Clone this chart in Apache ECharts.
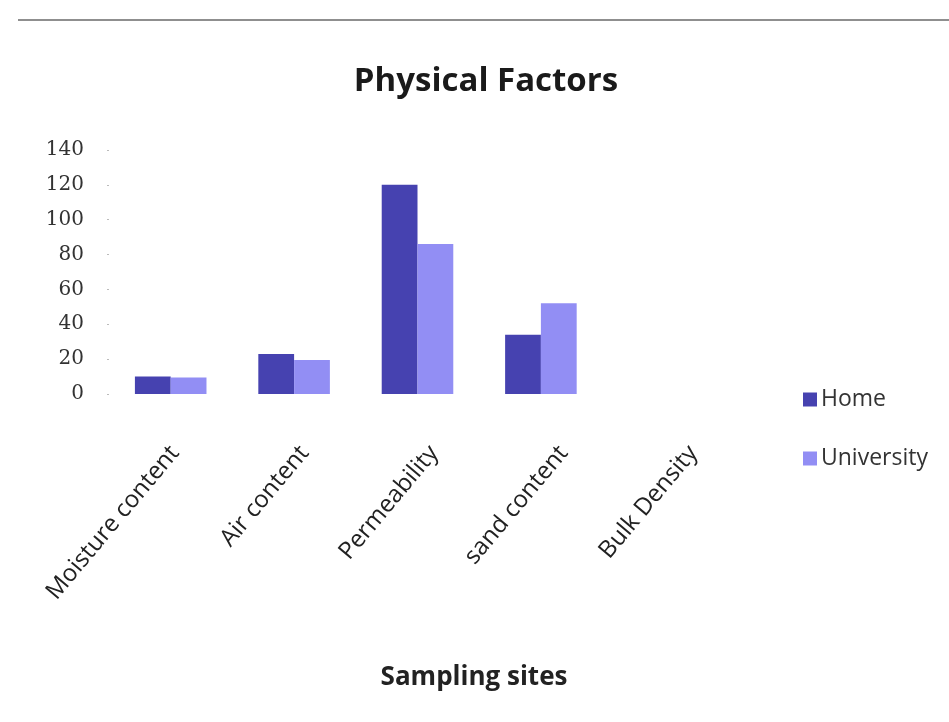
<!DOCTYPE html>
<html>
<head>
<meta charset="utf-8">
<script src="https://cdn.jsdelivr.net/npm/echarts@6/dist/echarts.min.js"></script>
<style>
  html, body { margin: 0; padding: 0; background: #ffffff; }
  #chart { width: 949px; height: 722px; }
</style>
</head>
<body>
<div id="chart"></div>
<script>
// Soil physical properties measured at two sampling sites
const categories = ['Moisture content', 'Air content', 'Permeability', 'sand content', 'Bulk Density'];
const homeValues = [10, 23, 120, 34, 0];
const universityValues = [9.5, 19.5, 86, 52, 0];
const seriesNames = ['Home', 'University'];
const yTicks = { min: 0, max: 140, interval: 20 };

const FONT = '"Open Sans", "Noto Sans", sans-serif';

const chart = echarts.init(document.getElementById('chart'), null, { renderer: 'canvas' });

chart.setOption({
  backgroundColor: '#ffffff',
  animation: false,
  title: [
    {
      text: 'Physical Factors',
      left: 481, top: 60, textAlign: 'center',
      textStyle: { fontFamily: FONT, fontSize: 33, fontWeight: 'bold', color: '#1a1a1a' }
    },
    {
      text: 'Sampling sites',
      left: 469, top: 660, textAlign: 'center',
      textStyle: { fontFamily: FONT, fontSize: 26, fontWeight: 'bold', color: '#222222' }
    }
  ],
  graphic: [
    {
      type: 'line',
      shape: { x1: 18, y1: 20, x2: 949, y2: 20 },
      style: { stroke: '#6a6a6a', lineWidth: 1.5 }
    }
  ],
  legend: {
    orient: 'vertical',
    left: 798, top: 383,
    itemWidth: 14, itemHeight: 14, itemGap: 36,
    icon: 'rect',
    data: seriesNames,
    textStyle: { fontFamily: FONT, fontSize: 23, color: '#333333', padding: [0, 0, 0, -1] }
  },
  // grid 0 holds the bars; grid 1 only carries the slanted category labels,
  // which sit on a slightly wider spacing than the bar groups
  grid: [
    { left: 109, right: 223, top: 150, bottom: 328 },
    { left: 110, right: 191, top: 150, bottom: 328 }
  ],
  xAxis: [
    {
      type: 'category', gridIndex: 0,
      data: categories,
      axisLine: { show: false },
      axisTick: { show: false },
      axisLabel: { show: false }
    },
    {
      type: 'category', gridIndex: 1,
      data: categories,
      axisLine: { show: false },
      axisTick: { show: false },
      axisLabel: {
        rotate: 50, margin: 55, interval: 0,
        fontFamily: FONT, fontSize: 24, color: '#222222'
      }
    }
  ],
  yAxis: [
    {
      type: 'value', gridIndex: 0,
      min: yTicks.min, max: yTicks.max, interval: yTicks.interval,
      axisLine: { show: false },
      axisTick: { show: true, length: 2, lineStyle: { color: '#bbbbbb' } },
      splitLine: { show: false },
      axisLabel: {
        margin: 25,
        fontFamily: '"DejaVu Serif", serif', fontSize: 20, color: '#333333'
      }
    },
    {
      type: 'value', gridIndex: 1, show: false,
      min: yTicks.min, max: yTicks.max
    }
  ],
  series: [
    {
      name: seriesNames[0], type: 'bar', data: homeValues,
      xAxisIndex: 0, yAxisIndex: 0,
      barGap: '0%', barCategoryGap: '42%',
      itemStyle: { color: '#4642b0' }
    },
    {
      name: seriesNames[1], type: 'bar', data: universityValues,
      xAxisIndex: 0, yAxisIndex: 0,
      itemStyle: { color: '#928ef4' }
    }
  ]
});
</script>
</body>
</html>
